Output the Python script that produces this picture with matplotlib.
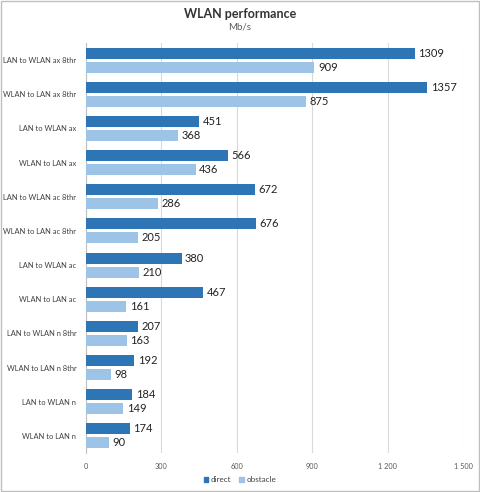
import numpy as np
import matplotlib
matplotlib.use("Agg")
import matplotlib.pyplot as plt
from matplotlib.patches import Rectangle

# data (top to bottom)
categories = ["LAN to WLAN ax 8thr", "WLAN to LAN ax 8thr", "LAN to WLAN ax", "WLAN to LAN ax",
              "LAN to WLAN ac 8thr", "WLAN to LAN ac 8thr", "LAN to WLAN ac", "WLAN to LAN ac",
              "LAN to WLAN n 8thr", "WLAN to LAN n 8thr", "LAN to WLAN n", "WLAN to LAN n"]
direct = [1309, 1357, 451, 566, 672, 676, 380, 467, 207, 192, 184, 174]
obstacle = [909, 875, 368, 436, 286, 205, 210, 161, 163, 98, 149, 90]
xticks = [0, 300, 600, 900, 1200, 1500]
xticklabels = ["0", "300", "600", "900", "1 200", "1 500"]

C_DIRECT = "#2E75B6"
C_OBST = "#9DC3E6"

plt.rcParams['font.family'] = ['Lato', 'DejaVu Sans']

fig = plt.figure(figsize=(4.8, 4.92), dpi=100)
ax = fig.add_axes([86/480, 1 - 453/492, (463-86)/480, (453-43)/492])

y = np.arange(len(categories))
h = 0.32
ax.barh(y - 0.205, direct, height=h, color=C_DIRECT, zorder=3)
ax.barh(y + 0.205, obstacle, height=h, color=C_OBST, zorder=3)

for yi, v in zip(y - 0.205, direct):
    ax.text(v + 14, yi, str(v), va='center', ha='left', fontsize=8, color='#222222')
for yi, v in zip(y + 0.205, obstacle):
    ax.text(v + 14, yi, str(v), va='center', ha='left', fontsize=8, color='#222222')

ax.set_ylim(len(categories) - 0.5, -0.5)
ax.set_xlim(0, 1500)
ax.set_yticks(y)
ax.set_yticklabels(categories, fontsize=5.4, color='#404040')
ax.set_xticks(xticks)
ax.set_xticklabels(xticklabels, fontsize=5.3, color='#595959')
ax.tick_params(length=0)
ax.tick_params(axis='x', pad=7)
ax.tick_params(axis='y', pad=7)
ax.grid(axis='x', color='#D9D9D9', lw=0.8, zorder=0)
for s in ['top', 'right', 'bottom']:
    ax.spines[s].set_visible(False)
ax.spines['left'].set_color('#BFBFBF')
ax.spines['left'].set_linewidth(0.8)

fig.text(0.5, 1 - 14/492, "WLAN performance", ha='center', va='center', fontsize=9, fontweight='bold', color='#333333')
fig.text(0.5, 1 - 27/492, "Mb/s", ha='center', va='center', fontsize=7, color='#595959')

handles = [Rectangle((0, 0), 1, 1, color=C_DIRECT), Rectangle((0, 0), 1, 1, color=C_OBST)]
fig.legend(handles, ["direct", "obstacle"], loc='center', bbox_to_anchor=(0.5, 1 - 480/492), ncol=2,
           frameon=False, fontsize=5.8, handlelength=0.6, handleheight=0.6, handletextpad=0.3,
           columnspacing=1.0, labelcolor='#404040')

fig.patches.append(Rectangle((0.002, 0.002), 0.996, 0.996, transform=fig.transFigure, fill=False,
                             edgecolor='#BFBFBF', lw=1))

fig.savefig("out.png", dpi=100)
